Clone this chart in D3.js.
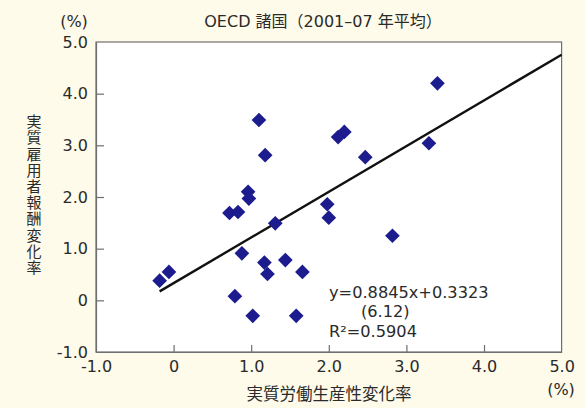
<!DOCTYPE html>
<html>
<head>
<meta charset="utf-8">
<script src="https://cdn.jsdelivr.net/npm/d3@7"></script>
<style>
  html, body { margin: 0; padding: 0; background: #fefbeb; }
  svg { display: block; }
  text { font-family: "DejaVu Sans", "Noto Sans CJK JP", sans-serif; fill: #2a2a2a; }
</style>
</head>
<body>
<svg id="chart" width="585" height="408"></svg>
<script>
// ---- data ----
const titleText = "OECD 諸国（2001–07 年平均）";
const xLabel = "実質労働生産性変化率";
const yLabel = "実質雇用者報酬変化率";
const unitLabel = "(%)";
const tickValues = [-1, 0, 1, 2, 3, 4, 5];
const tickLabels = ["-1.0", "0", "1.0", "2.0", "3.0", "4.0", "5.0"];
const productivity = [3.40, 1.10, 3.29, 2.20, 2.12, 1.18, 2.47, 0.96, 0.97, 0.72, 0.83, 1.98, 2.00, 1.31, 2.82, 0.88, 1.44, 1.17, 1.66, 1.21, -0.06, -0.18, 0.79, 1.02, 1.58];
const compensation = [4.20, 3.49, 3.04, 3.26, 3.16, 2.81, 2.77, 2.10, 1.97, 1.69, 1.71, 1.86, 1.60, 1.49, 1.25, 0.91, 0.78, 0.73, 0.55, 0.51, 0.55, 0.38, 0.08, -0.30, -0.30];
const slope = 0.8845, intercept = 0.3323;
const eqLines = ["y=0.8845x+0.3323", "(6.12)", "R²=0.5904"];

// ---- layout ----
const svg = d3.select("#chart");
const L = 96, R = 561.6, T = 42, B = 352;
const x = d3.scaleLinear().domain([-1, 5]).range([L, R]);
const y = d3.scaleLinear().domain([-1, 5]).range([B, T]);
const fmt = d => tickLabels[tickValues.indexOf(d)];
const FONT = '"DejaVu Sans", "Noto Sans CJK JP", sans-serif';
const CJK = '"Noto Sans CJK JP", sans-serif';

svg.append("rect").attr("width", 585).attr("height", 408).attr("fill", "#fefbeb");
svg.append("rect").attr("x", L).attr("y", T).attr("width", R - L).attr("height", B - T)
  .attr("fill", "#ffffff").attr("stroke", "#6f6f6f").attr("stroke-width", 1.2);

const xAxis = svg.append("g").attr("transform", `translate(0,${B})`)
  .call(d3.axisBottom(x).tickValues(tickValues).tickFormat(fmt).tickSizeInner(-7).tickSizeOuter(0).tickPadding(9));
const yAxis = svg.append("g").attr("transform", `translate(${L},0)`)
  .call(d3.axisLeft(y).tickValues(tickValues).tickFormat(fmt).tickSizeInner(-8).tickSizeOuter(0).tickPadding(8));
[xAxis, yAxis].forEach(g => {
  g.select(".domain").attr("stroke", "#6f6f6f").attr("stroke-width", 1.2);
  g.selectAll(".tick line").attr("stroke", "#6f6f6f").attr("stroke-width", 1.2);
  g.selectAll(".tick text").attr("font-size", 16).attr("fill", "#2a2a2a").style("font-family", FONT);
});
xAxis.selectAll(".tick").filter(d => d === -1 || d === 5).select("line").remove();
yAxis.selectAll(".tick").filter(d => d === -1 || d === 5).select("line").remove();

// regression line
const x0 = d3.min(productivity), x1 = 5;
svg.append("line")
  .attr("x1", x(x0)).attr("y1", y(slope * x0 + intercept))
  .attr("x2", x(x1)).attr("y2", y(slope * x1 + intercept))
  .attr("stroke", "#111").attr("stroke-width", 2.4);

// points
const pts = productivity.map((v, i) => [v, compensation[i]]);
svg.append("g").selectAll("path").data(pts).join("path")
  .attr("d", d3.symbol().type(d3.symbolSquare).size(108))
  .attr("transform", d => `translate(${x(d[0])},${y(d[1])}) rotate(45)`)
  .attr("fill", "#1c1c8e");

// equation
svg.append("text").attr("x", 329).attr("y", 298).attr("font-size", 16.2).text(eqLines[0]);
svg.append("text").attr("x", 361).attr("y", 317).attr("font-size", 16.2).text(eqLines[1]);
svg.append("text").attr("x", 329).attr("y", 337).attr("font-size", 16.2).text(eqLines[2]);

// title & units
svg.append("text").attr("x", 323).attr("y", 27).attr("text-anchor", "middle").attr("font-size", 16).text(titleText);
svg.append("text").attr("x", 74).attr("y", 27).attr("text-anchor", "middle").attr("font-size", 16).text(unitLabel);
svg.append("text").attr("x", 561).attr("y", 395).attr("text-anchor", "middle").attr("font-size", 16).text(unitLabel);

// x label
svg.append("text").attr("x", 329).attr("y", 400).attr("text-anchor", "middle")
  .attr("font-size", 16.5).style("font-family", CJK).text(xLabel);

// y label (vertical)
svg.append("text").attr("x", 34).attr("y", 114)
  .style("writing-mode", "vertical-rl").style("text-orientation", "upright")
  .style("letter-spacing", "1.2px").style("font-family", CJK)
  .attr("font-size", 15).text(yLabel);
</script>
</body>
</html>
